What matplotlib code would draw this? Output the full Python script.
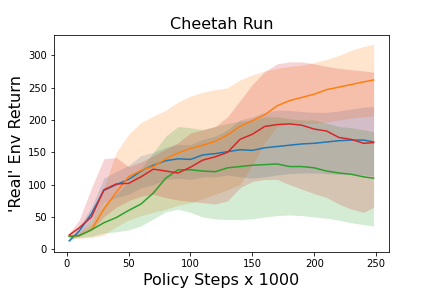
import numpy as np
import matplotlib
matplotlib.use("Agg")
import matplotlib.pyplot as plt

# policy steps (x1000)
steps = [2, 10, 20, 30, 40, 50, 60, 70, 80, 90, 100, 110, 120, 130,
         140, 150, 160, 170, 180, 190, 200, 210, 220, 230, 240, 248]

# mean returns
blue_mean = [13, 28, 55, 91, 100, 108, 121, 130, 137, 140, 139, 146, 148, 151,
             154, 153, 157, 159, 161, 163, 164, 166, 168, 169, 169, 166]
orange_mean = [20, 21, 30, 62, 88, 112, 122, 128, 140, 149, 156, 161, 167, 177,
               190, 199, 208, 222, 230, 235, 240, 247, 251, 255, 259, 262]
green_mean = [20, 21, 30, 41, 49, 60, 70, 87, 110, 123, 123, 121, 120, 126,
              128, 130, 131, 132, 128, 128, 126, 121, 118, 116, 112, 110]
red_mean = [22, 33, 50, 92, 101, 102, 112, 124, 121, 118, 127, 138, 143, 150,
            170, 178, 190, 193, 194, 192, 186, 183, 173, 170, 164, 165]

# shaded band edges
blue_hi = [15, 35, 65, 110, 120, 130, 145, 150, 158, 162, 162, 170, 175, 185,
           200, 205, 212, 215, 215, 213, 212, 212, 214, 217, 220, 221]
blue_lo = [11, 22, 45, 72, 80, 85, 95, 100, 108, 110, 108, 112, 112, 115,
           112, 110, 112, 115, 117, 118, 118, 117, 116, 116, 115, 113]
orange_hi = [24, 25, 40, 95, 150, 178, 196, 206, 215, 228, 237, 243, 247, 250,
             262, 270, 276, 280, 283, 285, 289, 294, 300, 308, 314, 317]
orange_lo = [17, 17, 18, 22, 35, 45, 52, 57, 62, 68, 72, 78, 85, 92,
             100, 130, 165, 190, 195, 195, 195, 197, 200, 203, 205, 206]
green_hi = [22, 25, 45, 70, 85, 105, 125, 150, 175, 190, 188, 185, 190, 195,
            198, 200, 205, 205, 202, 200, 200, 195, 190, 188, 185, 182]
green_lo = [18, 18, 20, 25, 27, 30, 36, 47, 58, 62, 57, 50, 47, 46,
            46, 47, 50, 52, 53, 52, 50, 48, 45, 41, 38, 36]
red_hi = [25, 45, 95, 140, 142, 128, 135, 145, 155, 165, 180, 185, 190, 205,
          230, 255, 275, 287, 290, 290, 287, 283, 280, 278, 276, 274]
red_lo = [18, 22, 30, 50, 65, 75, 82, 85, 80, 76, 74, 72, 70, 75,
          95, 105, 108, 108, 100, 93, 86, 80, 70, 62, 57, 65]

series = [
    (blue_mean, blue_lo, blue_hi, "tab:blue"),
    (orange_mean, orange_lo, orange_hi, "tab:orange"),
    (green_mean, green_lo, green_hi, "tab:green"),
    (red_mean, red_lo, red_hi, "tab:red"),
]

fig, ax = plt.subplots(figsize=(6, 4), dpi=72)
fig.subplots_adjust(bottom=0.125)

for mean, lo, hi, c in series:
    ax.fill_between(steps, lo, hi, color=c, alpha=0.2, linewidth=0)
for mean, lo, hi, c in series:
    ax.plot(steps, mean, color=c)

ax.set_title("Cheetah Run", fontsize=16)
ax.set_xlabel("Policy Steps x 1000", fontsize=16)
ax.set_ylabel("'Real' Env Return", fontsize=16)

fig.savefig("out.png")
